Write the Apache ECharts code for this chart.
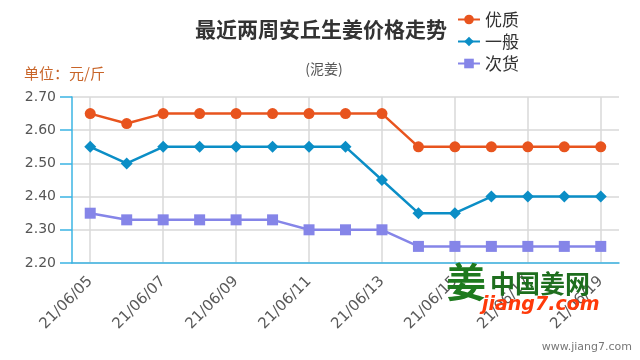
<!DOCTYPE html>
<html><head><meta charset="utf-8">
<script src="https://cdn.jsdelivr.net/npm/echarts@6/dist/echarts.min.js"></script>
<style>html,body{margin:0;padding:0;background:#fff}#c{width:640px;height:360px}</style>
</head><body><div id="c"></div>
<script>
var dates = ['21/06/05','21/06/06','21/06/07','21/06/08','21/06/09','21/06/10','21/06/11','21/06/12','21/06/13','21/06/14','21/06/15','21/06/16','21/06/17','21/06/18','21/06/19'];
var youzhi = [2.65,2.62,2.65,2.65,2.65,2.65,2.65,2.65,2.65,2.55,2.55,2.55,2.55,2.55,2.55];
var yiban  = [2.55,2.50,2.55,2.55,2.55,2.55,2.55,2.55,2.45,2.35,2.35,2.40,2.40,2.40,2.40];
var cihuo  = [2.35,2.33,2.33,2.33,2.33,2.33,2.30,2.30,2.30,2.25,2.25,2.25,2.25,2.25,2.25];
var seriesNames = ['优质','一般','次货'];

var chart = echarts.init(document.getElementById('c'));
var font = '"Microsoft YaHei","Noto Sans CJK SC","DejaVu Sans",sans-serif';
chart.setOption({
  animation: false,
  textStyle: {fontFamily: font},
  title: [{
    text: '最近两周安丘生姜价格走势', left: 316, top: 14, textAlign: 'center',
    textStyle: {fontSize: 21, fontWeight: 'bold', color: '#333', fontFamily: font}
  },{
    text: '(泥姜)', left: 319, top: 57, textAlign: 'center',
    textStyle: {fontSize: 14, fontWeight: 'normal', color: '#555', fontFamily: font}
  },{
    text: '单位：元/斤', left: 19, top: 61,
    textStyle: {fontSize: 15, fontWeight: 'normal', color: '#c86428', fontFamily: font}
  }],
  legend: {
    orient: 'vertical', left: 452, top: 6, itemWidth: 22, itemHeight: 12, itemGap: 5,
    textStyle: {fontSize: 17, color: '#333', fontFamily: font},
    data: seriesNames
  },
  grid: {left: 72, right: 21, top: 97, bottom: 97},
  xAxis: {
    type: 'category', data: dates, boundaryGap: true,
    axisLine: {lineStyle: {color: '#3bb4e3', width: 1.5}},
    axisTick: {interval: 1, alignWithLabel: true, length: 11, lineStyle: {color: '#3bb4e3', width: 1.5}},
    splitLine: {show: true, interval: 1, alignWithLabel: true, lineStyle: {color: '#d9d9d9', width: 1.5}},
    axisLabel: {interval: 1, rotate: 45, margin: 16, color: '#5a5a5a', fontSize: 15, fontFamily: '"DejaVu Sans",sans-serif'}
  },
  yAxis: {
    type: 'value', min: 2.2, max: 2.7, interval: 0.1,
    axisLine: {show: true, lineStyle: {color: '#3bb4e3', width: 1.5}},
    axisTick: {show: true, length: 12, lineStyle: {color: '#3bb4e3', width: 1.5}},
    splitLine: {lineStyle: {color: '#d9d9d9', width: 1.5}},
    axisLabel: {margin: 16, color: '#555', fontSize: 14, fontFamily: '"DejaVu Sans",sans-serif',
      formatter: function(v){ return v.toFixed(2); }}
  },
  series: [{
    name: seriesNames[0], type: 'line', data: youzhi, symbol: 'circle', symbolSize: 11,
    lineStyle: {width: 2.5, color: '#e8541e'}, itemStyle: {color: '#e8541e'}
  },{
    name: seriesNames[1], type: 'line', data: yiban, symbol: 'diamond', symbolSize: 12,
    lineStyle: {width: 2.5, color: '#0b8ec6'}, itemStyle: {color: '#0b8ec6'}
  },{
    name: seriesNames[2], type: 'line', data: cihuo, symbol: 'rect', symbolSize: 11,
    lineStyle: {width: 2.5, color: '#8585e8'}, itemStyle: {color: '#8585e8'}
  }],
  graphic: [
    {type: 'text', left: 446, top: 262, z: 100, style: {text: '姜', fill: '#1e7a1e', font: 'bold 40px "Noto Sans CJK SC"'}},
    {type: 'text', left: 490, top: 271, z: 100, style: {text: '中国姜网', fill: '#1e6e1e', font: 'bold 25px "Noto Sans CJK SC"'}},
    {type: 'text', left: 482, top: 296, z: 100, style: {text: 'jiang7.com', fill: '#ff3a0a', font: 'italic bold 19px "DejaVu Sans"'}},
    {type: 'text', right: 8, top: 342, z: 100, style: {text: 'www.jiang7.com', fill: '#777', font: '11px "DejaVu Sans"'}}
  ]
});
</script></body></html>
